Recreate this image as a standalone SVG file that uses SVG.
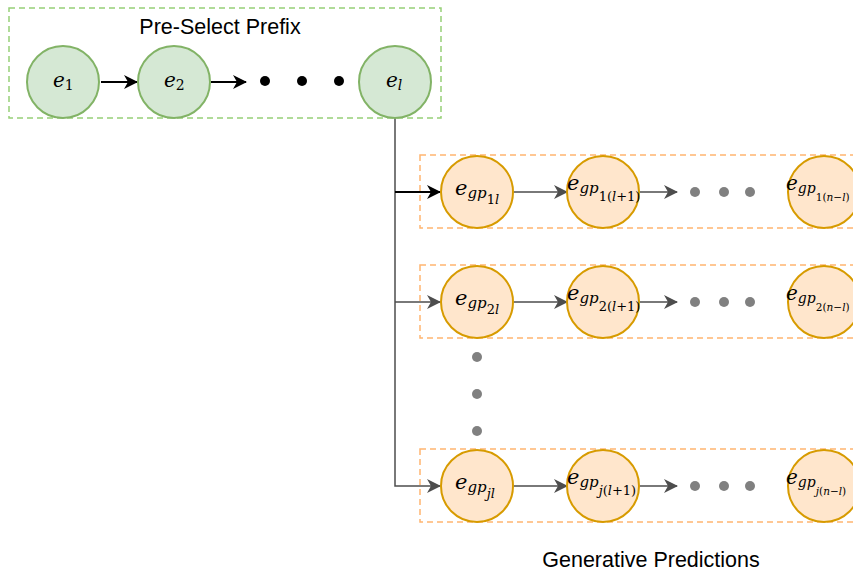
<svg xmlns="http://www.w3.org/2000/svg" width="853" height="574" viewBox="0 0 853 574">
<defs>
<style>
.gbox{fill:none;stroke:#97d077;stroke-width:1.5;stroke-dasharray:6 4}
.obox{fill:none;stroke:#ffb570;stroke-width:1.5;stroke-dasharray:6 4}
.gc{fill:#d5e8d4;stroke:#82b366;stroke-width:2}
.oc{fill:#ffe6cc;stroke:#d79b00;stroke-width:2}
.m{font-family:"DejaVu Serif","Liberation Serif",serif;font-style:italic;fill:#000}
.t{font-family:"Liberation Sans",Arial,sans-serif;fill:#000}
.kl{stroke:#000;stroke-width:2;fill:none}
.gl{stroke:#4d4d4d;stroke-width:1.5;fill:none}
.bd{fill:#000}
.gd{fill:#808080}
</style>
<marker id="ab" markerWidth="16" markerHeight="16" refX="13" refY="7" orient="auto" markerUnits="userSpaceOnUse"><path d="M0,0 L14,7 L0,14 L4,7 Z" fill="#000"/></marker>
<marker id="ag" markerWidth="16" markerHeight="16" refX="13" refY="7" orient="auto" markerUnits="userSpaceOnUse"><path d="M0,0 L14,7 L0,14 L4,7 Z" fill="#4d4d4d"/></marker>
</defs>
<rect width="853" height="574" fill="#fff"/>

<g id="prefix-box">
<rect class="gbox" x="9" y="8" width="432" height="110"/>
<text class="t" x="220" y="34" font-size="21.5" text-anchor="middle">Pre-Select Prefix</text>
</g>
<g id="gen-box-1"><rect class="obox" x="420" y="155" width="440" height="73"/></g>
<g id="gen-box-2"><rect class="obox" x="420" y="265" width="440" height="73"/></g>
<g id="gen-box-j"><rect class="obox" x="420" y="449" width="440" height="73"/></g>

<g id="connectors">
<line class="kl" x1="101" y1="82" x2="137" y2="82" marker-end="url(#ab)"/>
<line class="kl" x1="211" y1="82" x2="246" y2="82" marker-end="url(#ab)"/>
<path class="gl" d="M395,118 V486 H440" marker-end="url(#ag)"/>
<line class="kl" x1="395" y1="192" x2="440" y2="192" stroke-width="1.5" marker-end="url(#ab)"/>
<line class="gl" x1="395" y1="302" x2="440" y2="302" marker-end="url(#ag)"/>
<line class="gl" x1="514" y1="192" x2="567" y2="192" marker-end="url(#ag)"/>
<line class="gl" x1="640" y1="192" x2="677" y2="192" marker-end="url(#ag)"/>
<line class="gl" x1="514" y1="302" x2="567" y2="302" marker-end="url(#ag)"/>
<line class="gl" x1="640" y1="302" x2="677" y2="302" marker-end="url(#ag)"/>
<line class="gl" x1="514" y1="486" x2="567" y2="486" marker-end="url(#ag)"/>
<line class="gl" x1="640" y1="486" x2="677" y2="486" marker-end="url(#ag)"/>
</g>

<g id="prefix-dots">
<circle class="bd" cx="265" cy="81" r="5"/>
<circle class="bd" cx="302" cy="81" r="5"/>
<circle class="bd" cx="339" cy="81" r="5"/>
</g>

<g id="e1"><circle class="gc" cx="63" cy="82" r="36"/>
<text class="m" x="53" y="87" font-size="20">e<tspan font-size="14" font-style="normal" dy="3">1</tspan></text></g>
<g id="e2"><circle class="gc" cx="174" cy="82" r="36"/>
<text class="m" x="164" y="87" font-size="20">e<tspan font-size="14" font-style="normal" dy="3">2</tspan></text></g>
<g id="el"><circle class="gc" cx="395" cy="82" r="36"/>
<text class="m" x="386" y="87" font-size="20">e<tspan font-size="14" dy="3">l</tspan></text></g>

<g id="gp1l"><circle class="oc" cx="477" cy="192" r="36"/>
<text class="m" x="455" y="195" font-size="21">e<tspan font-size="15" dy="3">gp</tspan><tspan font-size="13" dy="6"><tspan font-style="normal">1</tspan>l</tspan></text></g>
<g id="gp1l1"><circle class="oc" cx="603" cy="192" r="36"/>
<text class="m" x="567" y="190" font-size="21">e<tspan font-size="15" dy="3">gp</tspan><tspan font-size="13" dy="8"><tspan font-style="normal">1(</tspan>l<tspan font-style="normal">+1)</tspan></tspan></text></g>
<g id="gp1nl"><circle class="oc" cx="824" cy="192" r="36"/>
<text class="m" x="786" y="190" font-size="20">e<tspan font-size="14" dy="3">gp</tspan><tspan font-size="10.5" dy="8"><tspan font-style="normal">1(</tspan>n<tspan font-style="normal">−</tspan>l<tspan font-style="normal">)</tspan></tspan></text></g>
<g id="row1-dots"><circle class="gd" cx="695" cy="192" r="5"/><circle class="gd" cx="724" cy="192" r="5"/><circle class="gd" cx="750" cy="192" r="5"/></g>

<g id="gp2l"><circle class="oc" cx="477" cy="302" r="36"/>
<text class="m" x="455" y="305" font-size="21">e<tspan font-size="15" dy="3">gp</tspan><tspan font-size="13" dy="6"><tspan font-style="normal">2</tspan>l</tspan></text></g>
<g id="gp2l1"><circle class="oc" cx="603" cy="302" r="36"/>
<text class="m" x="567" y="300" font-size="21">e<tspan font-size="15" dy="3">gp</tspan><tspan font-size="13" dy="8"><tspan font-style="normal">2(</tspan>l<tspan font-style="normal">+1)</tspan></tspan></text></g>
<g id="gp2nl"><circle class="oc" cx="824" cy="302" r="36"/>
<text class="m" x="786" y="300" font-size="20">e<tspan font-size="14" dy="3">gp</tspan><tspan font-size="10.5" dy="8"><tspan font-style="normal">2(</tspan>n<tspan font-style="normal">−</tspan>l<tspan font-style="normal">)</tspan></tspan></text></g>
<g id="row2-dots"><circle class="gd" cx="695" cy="302" r="5"/><circle class="gd" cx="724" cy="302" r="5"/><circle class="gd" cx="750" cy="302" r="5"/></g>

<g id="vertical-dots"><circle class="gd" cx="477" cy="357" r="5"/><circle class="gd" cx="477" cy="394" r="5"/><circle class="gd" cx="477" cy="431" r="5"/></g>

<g id="gpjl"><circle class="oc" cx="477" cy="486" r="36"/>
<text class="m" x="455" y="489" font-size="21">e<tspan font-size="15" dy="3">gp</tspan><tspan font-size="13" dy="6">jl</tspan></text></g>
<g id="gpjl1"><circle class="oc" cx="603" cy="486" r="36"/>
<text class="m" x="567" y="484" font-size="21">e<tspan font-size="15" dy="3">gp</tspan><tspan font-size="13" dy="8">j<tspan font-style="normal">(</tspan>l<tspan font-style="normal">+1)</tspan></tspan></text></g>
<g id="gpjnl"><circle class="oc" cx="824" cy="486" r="36"/>
<text class="m" x="786" y="484" font-size="20">e<tspan font-size="14" dy="3">gp</tspan><tspan font-size="10.5" dy="8">j<tspan font-style="normal">(</tspan>n<tspan font-style="normal">−</tspan>l<tspan font-style="normal">)</tspan></tspan></text></g>
<g id="rowj-dots"><circle class="gd" cx="695" cy="486" r="5"/><circle class="gd" cx="724" cy="486" r="5"/><circle class="gd" cx="750" cy="486" r="5"/></g>

<g id="gen-label"><text class="t" x="651" y="567" font-size="21.5" text-anchor="middle">Generative Predictions</text></g>
</svg>
